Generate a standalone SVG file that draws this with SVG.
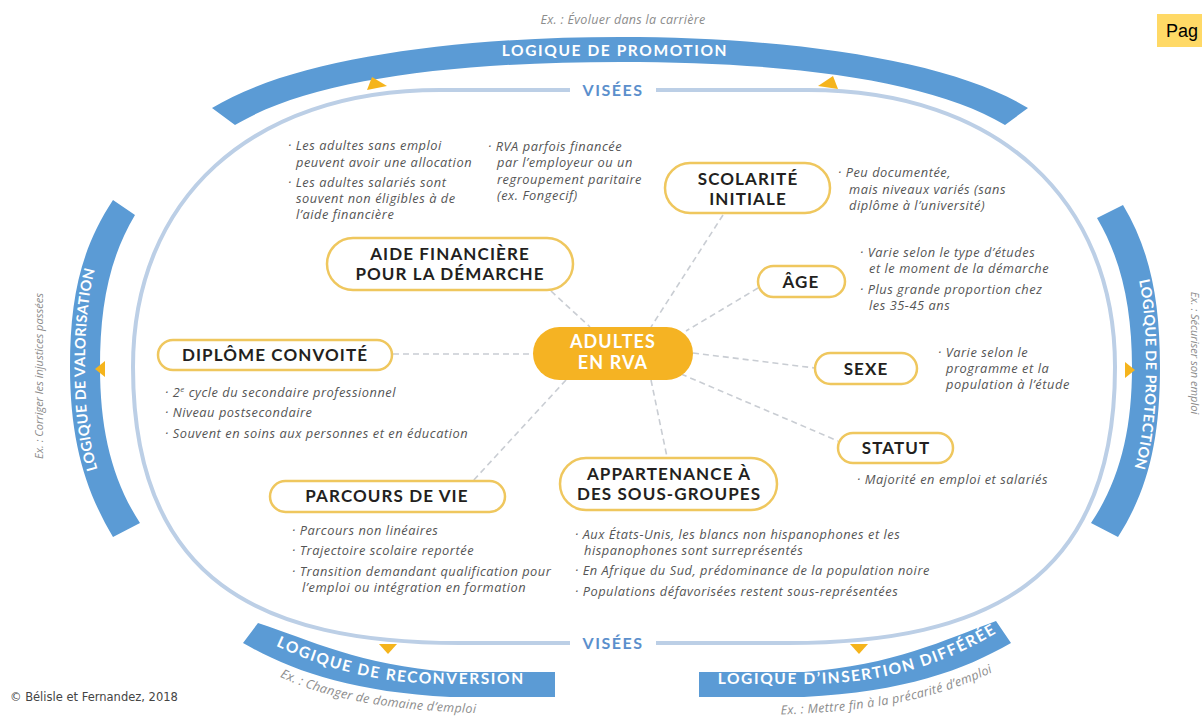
<svg xmlns="http://www.w3.org/2000/svg" width="1202" height="718" viewBox="0 0 1202 718">
<defs>
<style>
.band{fill:#5b9bd5}
.btxt{font-family:Lato,"Open Sans",sans-serif;font-weight:700;font-size:15.5px;fill:#ffffff;letter-spacing:1.6px}
.btxt2{font-family:Lato,"Open Sans",sans-serif;font-weight:700;font-size:14.5px;fill:#ffffff;letter-spacing:0.3px}
.ex{font-family:"Open Sans",Lato,sans-serif;font-style:italic;font-size:12.5px;fill:#8c8c8c;letter-spacing:0.3px}
.exs{font-family:"Open Sans",Lato,sans-serif;font-style:italic;font-size:11px;fill:#8c8c8c}
.inner{fill:none;stroke:#bccfe6;stroke-width:4}
.vis{font-family:Lato,sans-serif;font-weight:700;font-size:16px;fill:#5b8fcc;letter-spacing:1.5px;text-anchor:middle}
.pill{fill:#ffffff;stroke:#efc75e;stroke-width:2.5}
.lbl{font-family:Lato,"Open Sans",sans-serif;font-weight:700;font-size:17px;fill:#231f20;letter-spacing:1.1px;text-anchor:middle}
.bul{font-family:"Open Sans",Lato,sans-serif;font-style:italic;font-size:12.8px;fill:#555555;letter-spacing:0.55px}
.conn{fill:none;stroke:#c9cdd3;stroke-width:1.6;stroke-dasharray:6 4}
.tri{fill:#f5b41c}
</style>
<path id="pl" d="M 126 532 C 97 485, 85 440, 85 367 C 85 300, 93 250, 124 207"/>
<path id="pr" d="M 1110 211 C 1139 255, 1146 300, 1146 367 C 1146 440, 1134 490, 1105 530"/>
<path id="pbl" d="M 250 633 C 305 662, 365 684, 450 684 L 560 684"/>
<path id="pbr" d="M 695 684 L 804 684 C 889 684, 950 662, 1006 627"/>
<path id="exbl" d="M 264 669 C 322 700, 392 713, 520 714"/>
<path id="exbr" d="M 740 715 C 872 715, 948 698, 1014 661"/>
</defs>
<rect width="1202" height="718" fill="#ffffff"/>

<!-- outer bands -->
<g id="band-promotion">
<path class="band" d="M 212 108 C 290 60, 450 37, 620 37 C 790 37, 950 60, 1028 108 L 1005 125 C 930 80, 790 62, 620 62 C 450 62, 310 80, 235 125 Z"/>
<text class="btxt" x="615" y="56" text-anchor="middle">LOGIQUE DE PROMOTION</text>
<text class="ex" x="623" y="24" text-anchor="middle">Ex. : Évoluer dans la carrière</text>
</g>
<g id="band-valorisation">
<path class="band" d="M 113 200 C 80 250, 70 300, 70 367 C 70 440, 85 490, 113 537 L 140 523 C 112 480, 100 430, 100 367 C 100 310, 108 260, 135 215 Z"/>
<text class="btxt2"><textPath href="#pl" startOffset="50%" text-anchor="middle" dy="5.2">LOGIQUE DE VALORISATION</textPath></text>
<text class="exs" transform="translate(43,376) rotate(-90)" text-anchor="middle">Ex. : Corriger les injustices passées</text>
</g>
<g id="band-protection">
<path class="band" d="M 1123 205 C 1150 250, 1160 300, 1160 367 C 1160 440, 1148 490, 1118 537 L 1091 523 C 1120 480, 1132 430, 1132 367 C 1132 310, 1122 260, 1097 218 Z"/>
<text class="btxt2"><textPath href="#pr" startOffset="51%" text-anchor="middle" dy="5.2">LOGIQUE DE PROTECTION</textPath></text>
<text class="exs" transform="translate(1191,353) rotate(90)" text-anchor="middle">Ex. : Sécuriser son emploi</text>
</g>
<g id="band-reconversion">
<path class="band" d="M 243 643 C 290 670, 350 692, 450 697 L 555 697 L 555 672 L 450 672 C 360 665, 310 640, 258 623 Z"/>
<text class="btxt"><textPath href="#pbl" startOffset="49%" text-anchor="middle" dy="5.5">LOGIQUE DE RECONVERSION</textPath></text>
<text class="ex"><textPath href="#exbl" startOffset="45%" text-anchor="middle">Ex. : Changer de domaine d’emploi</textPath></text>
</g>
<g id="band-insertion">
<path class="band" d="M 699 672 L 804 672 C 894 665, 944 640, 996 621 L 1011 643 C 964 670, 904 692, 804 697 L 699 697 Z"/>
<text class="btxt"><textPath href="#pbr" startOffset="52%" text-anchor="middle" dy="5.5">LOGIQUE D’INSERTION DIFFÉRÉE</textPath></text>
<text class="ex"><textPath href="#exbr" startOffset="53%" text-anchor="middle">Ex. : Mettre fin à la précarité d’emploi</textPath></text>
</g>

<!-- inner visées curve -->
<g id="visees">
<path class="inner" d="M 624 90 L 440 90 C 250 90, 133 200, 133 367 C 133 580, 260 643, 460 643 L 788 643 C 988 643, 1115 580, 1115 367 C 1115 200, 998 90, 808 90 Z"/>
<rect x="570" y="78" width="86" height="24" fill="#ffffff"/>
<rect x="570" y="631" width="86" height="24" fill="#ffffff"/>
<text class="vis" x="613" y="96">VISÉES</text>
<text class="vis" x="613" y="649">VISÉES</text>
</g>

<!-- orange arrowheads -->
<g id="arrows">
<polygon class="tri" points="367,90 387,86 372,77"/>
<polygon class="tri" points="838,89 818,86 833,76"/>
<polygon class="tri" points="95,369 105,361 105,377"/>
<polygon class="tri" points="1135,370 1125,362 1125,378"/>
<polygon class="tri" points="379,644 397,644 388,654"/>
<polygon class="tri" points="850,644 868,644 859,654"/>
</g>

<!-- connectors -->
<g id="connectors">
<line class="conn" x1="551" y1="291" x2="590" y2="327"/>
<line class="conn" x1="723" y1="215" x2="651" y2="327"/>
<line class="conn" x1="758" y1="288" x2="686" y2="331"/>
<line class="conn" x1="393" y1="354" x2="533" y2="354"/>
<line class="conn" x1="693" y1="353" x2="815" y2="368"/>
<line class="conn" x1="681" y1="374" x2="838" y2="441"/>
<line class="conn" x1="651" y1="380" x2="667" y2="457"/>
<line class="conn" x1="566" y1="380" x2="472" y2="482"/>
</g>

<!-- nodes -->
<g id="node-centre">
<rect x="533" y="327" width="160" height="53" rx="26.5" fill="#f5b323"/>
<text class="lbl" x="613" y="348" style="fill:#ffffff;font-size:18px">ADULTES</text>
<text class="lbl" x="613" y="369" style="fill:#ffffff;font-size:18px">EN RVA</text>
</g>
<g id="node-aide">
<rect class="pill" x="327" y="238" width="246" height="52" rx="26"/>
<text class="lbl" x="450" y="260">AIDE FINANCIÈRE</text>
<text class="lbl" x="450" y="280">POUR LA DÉMARCHE</text>
<text class="bul" x="288" y="150">· Les adultes sans emploi</text>
<text class="bul" x="296" y="167">peuvent avoir une allocation</text>
<text class="bul" x="288" y="187">· Les adultes salariés sont</text>
<text class="bul" x="296" y="203">souvent non éligibles à de</text>
<text class="bul" x="296" y="219">l’aide financière</text>
<text class="bul" x="488" y="151">· RVA parfois financée</text>
<text class="bul" x="497" y="167">par l’employeur ou un</text>
<text class="bul" x="497" y="184">regroupement paritaire</text>
<text class="bul" x="497" y="200">(ex. Fongecif)</text>
</g>
<g id="node-scolarite">
<rect class="pill" x="665" y="163" width="165" height="50" rx="25"/>
<text class="lbl" x="748" y="185">SCOLARITÉ</text>
<text class="lbl" x="748" y="205">INITIALE</text>
<text class="bul" x="838" y="177">· Peu documentée,</text>
<text class="bul" x="849" y="194">mais niveaux variés (sans</text>
<text class="bul" x="849" y="210">diplôme à l’université)</text>
</g>
<g id="node-age">
<rect class="pill" x="758" y="266" width="87" height="31" rx="15.5"/>
<text class="lbl" x="801" y="288">ÂGE</text>
<text class="bul" x="860" y="257">· Varie selon le type d’études</text>
<text class="bul" x="869" y="273">et le moment de la démarche</text>
<text class="bul" x="860" y="294">· Plus grande proportion chez</text>
<text class="bul" x="869" y="310">les 35-45 ans</text>
</g>
<g id="node-diplome">
<rect class="pill" x="158" y="340" width="234" height="30" rx="15"/>
<text class="lbl" x="275" y="361">DIPLÔME CONVOITÉ</text>
<text class="bul" x="165" y="397">· 2<tspan baseline-shift="super" font-size="8">e</tspan> cycle du secondaire professionnel</text>
<text class="bul" x="165" y="417">· Niveau postsecondaire</text>
<text class="bul" x="165" y="438">· Souvent en soins aux personnes et en éducation</text>
</g>
<g id="node-sexe">
<rect class="pill" x="815" y="353" width="102" height="31" rx="15.5"/>
<text class="lbl" x="866" y="375">SEXE</text>
<text class="bul" x="938" y="357">· Varie selon le</text>
<text class="bul" x="946" y="373">programme et la</text>
<text class="bul" x="946" y="389">population à l’étude</text>
</g>
<g id="node-statut">
<rect class="pill" x="838" y="433" width="115" height="30" rx="15"/>
<text class="lbl" x="896" y="454">STATUT</text>
<text class="bul" x="857" y="484">· Majorité en emploi et salariés</text>
</g>
<g id="node-appartenance">
<rect class="pill" x="560" y="458" width="217" height="52" rx="26"/>
<text class="lbl" x="669" y="480">APPARTENANCE À</text>
<text class="lbl" x="669" y="500">DES SOUS-GROUPES</text>
<text class="bul" x="575" y="539">· Aux États-Unis, les blancs non hispanophones et les</text>
<text class="bul" x="584" y="555">hispanophones sont surreprésentés</text>
<text class="bul" x="575" y="575">· En Afrique du Sud, prédominance de la population noire</text>
<text class="bul" x="575" y="596">· Populations défavorisées restent sous-représentées</text>
</g>
<g id="node-parcours">
<rect class="pill" x="270" y="481" width="235" height="31" rx="15.5"/>
<text class="lbl" x="387" y="502">PARCOURS DE VIE</text>
<text class="bul" x="292" y="535">· Parcours non linéaires</text>
<text class="bul" x="292" y="555">· Trajectoire scolaire reportée</text>
<text class="bul" x="292" y="576">· Transition demandant qualification pour</text>
<text class="bul" x="302" y="592">l’emploi ou intégration en formation</text>
</g>

<!-- page tag and credit -->
<g id="page-tag">
<rect x="1157" y="14" width="50" height="33" fill="#ffd966"/>
<text x="1166" y="37" font-family="Liberation Sans, Arial, sans-serif" font-size="18" fill="#000000">Pag</text>
</g>
<text id="credit" x="10" y="701" font-family="DejaVu Sans, Verdana, sans-serif" font-size="11.5" fill="#444444">© Bélisle et Fernandez, 2018</text>
</svg>
